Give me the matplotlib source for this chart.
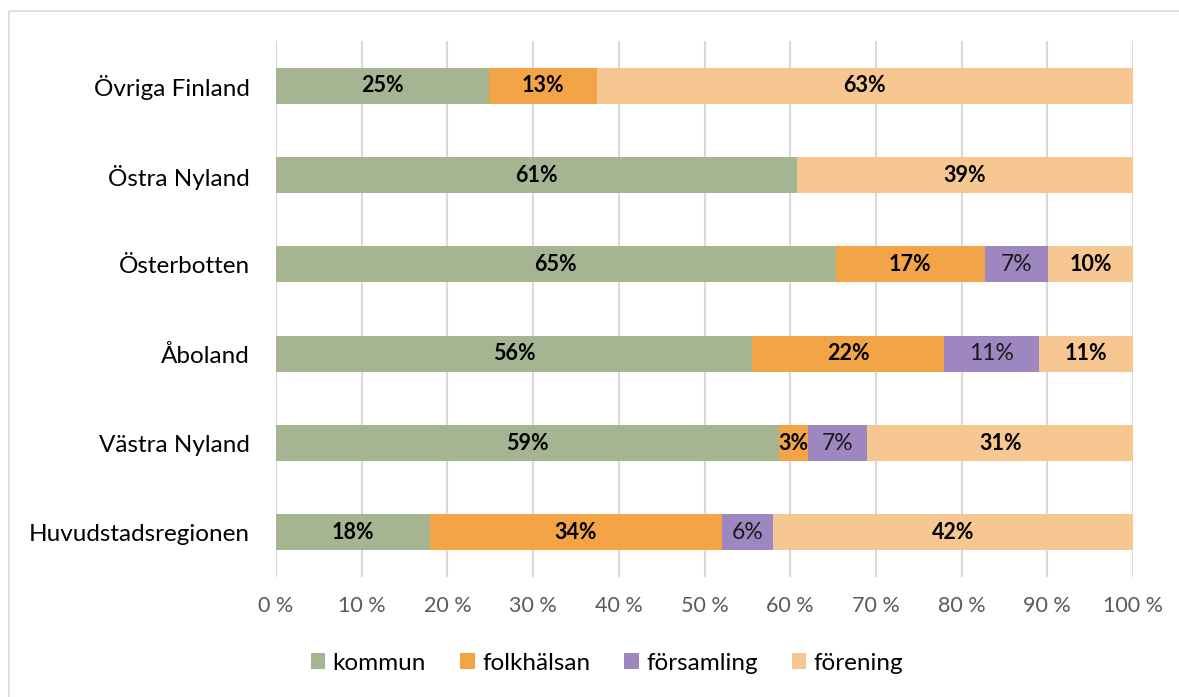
import numpy as np
import matplotlib.pyplot as plt
from matplotlib.patches import Rectangle

plt.rcParams['font.family'] = ['Lato', 'DejaVu Sans']

# data (shares in %), bottom-to-top order
regions = ["Huvudstadsregionen", "Västra Nyland", "Åboland",
           "Österbotten", "Östra Nyland", "Övriga Finland"]
kommun = [18.0, 58.7, 55.6, 65.3, 60.8, 24.8]
folkhalsan = [34.0, 3.4, 22.3, 17.4, 0.0, 12.6]
forsamling = [6.0, 6.9, 11.1, 7.4, 0.0, 0.0]
forening = [42.0, 31.0, 11.0, 9.9, 39.2, 62.6]

series = ["kommun", "folkhälsan", "församling", "förening"]
colors = ["#A5B592", "#F3A447", "#9E86C0", "#F7C791"]
bold = [True, True, False, True]

fig = plt.figure(figsize=(11.79, 6.97), dpi=100)
ax = fig.add_axes([276 / 1179, 1 - 577 / 697, 857 / 1179, 536 / 697])

# chart frame
fig.patches.append(Rectangle((9 / 1179, -0.01), 1.0, 1 - 11 / 697 + 0.01,
                             transform=fig.transFigure, fill=False,
                             edgecolor="#D9D9D9", linewidth=1.2))

y = np.arange(len(regions))
left = np.zeros(len(regions))
for name, vals, col, b in zip(series, [kommun, folkhalsan, forsamling, forening], colors, bold):
    vals = np.array(vals)
    ax.barh(y, vals, left=left, height=0.4, color=col, label=name, zorder=3)
    for yi, l, v in zip(y, left, vals):
        if v > 0:
            ax.text(l + v / 2, yi, f"{v:.0f}%", ha="center", va="center",
                    fontsize=15.5 if b else 16.5,
                    fontweight="bold" if b else "normal",
                    color="black" if b else "#1a1a1a", zorder=4)
    left += vals

ax.set_xlim(0, 100)
ax.set_ylim(-0.5, len(regions) - 0.5)
ax.set_yticks(y)
ax.set_yticklabels(regions, fontsize=17.5, color="black")
ax.set_xticks(np.arange(0, 101, 10))
ax.set_xticklabels([f"{v} %" for v in range(0, 101, 10)], fontsize=15.5, color="#595959")
ax.tick_params(axis="both", length=0)
ax.tick_params(axis="y", pad=19)
ax.tick_params(axis="x", pad=14)
ax.grid(axis="x", color="#D9D9D9", linewidth=1.5, zorder=0)
for s in ax.spines.values():
    s.set_visible(False)

ax.legend(loc="center", bbox_to_anchor=(607 / 1179, 1 - 663 / 697),
          bbox_transform=fig.transFigure, ncol=4, frameon=False,
          fontsize=17.5, handlelength=0.6, handleheight=0.6, handletextpad=0.3,
          columnspacing=1.4)

fig.savefig("out.png", dpi=100)
